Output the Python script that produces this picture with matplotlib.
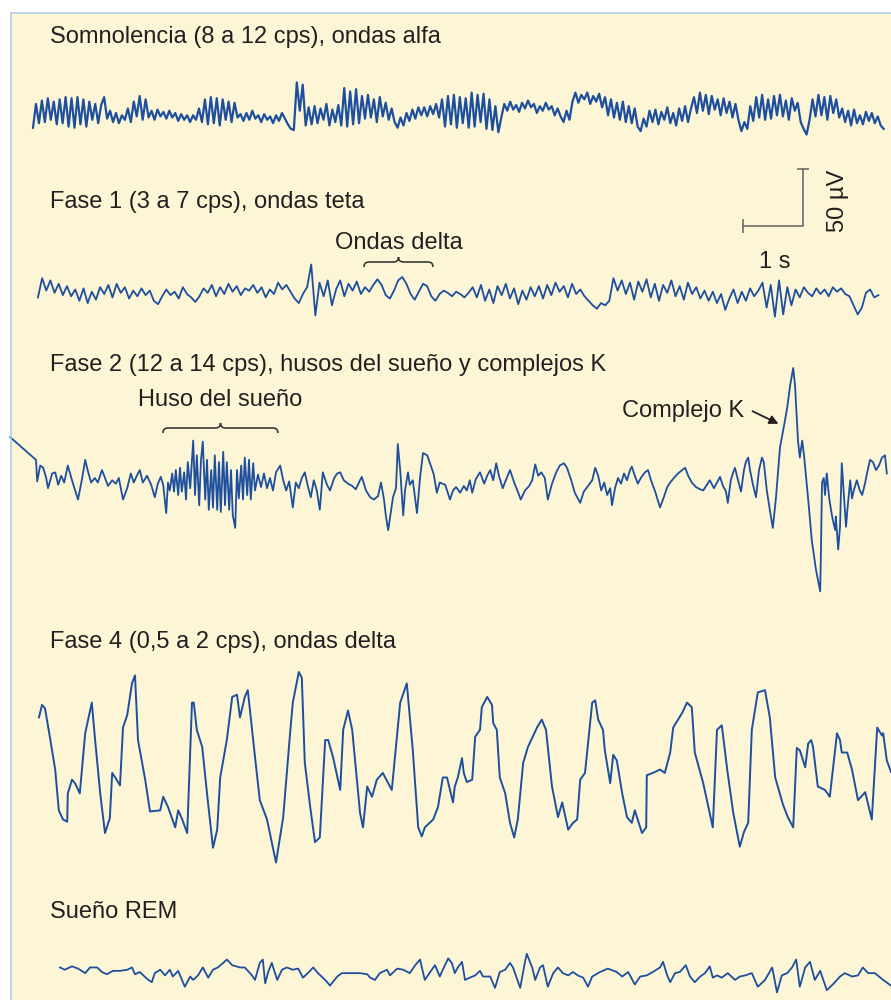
import numpy as np
import matplotlib.pyplot as plt
import matplotlib.transforms as mtransforms
from matplotlib.patches import Rectangle, PathPatch, FancyArrowPatch
from matplotlib.path import Path
from matplotlib.lines import Line2D

# ---- EEG traces (time in s, amplitude in µV) ----

# drowsiness, alpha waves: uniform samples
alpha_t0, alpha_dt = 0.55, 0.0494
alpha_uv = [
    -13, 8, -9, 11, -8, 13, -6, 10, -10,
    12, -9, 14, -12, 13, -13, 14, -10, 12, -12, 10, -6, 8, -9,
    7, 14, -5, 2, -8, 0, -9, -2,
    -6, 4, -8, 10, -3, 15, -6, 12,
    -4, 2, -6, 3, -3, 1, -5, 2, -4, 0, -7, -1, -6, -2, -8, -2, -6,
    4, -8, 12, -10, 14, -9, 13, -11, 12, -6, 10, -8, 9, -4,
    -1, -7, 0, -6, 2, -5, -2, -8, -1, -6, -3, -9, -2, -7, 0, -5, -10, -14,
    -15, 27, 2, 25, -11, 5,
    -10, 6, -9, 4, -6, 8, -11, 3, -8, 7,
    -11, 22, -12, 19, -10, 21, -9, 15,
    -5, 16, -4, 12, -8, 14, -3, 9, -6, 4, -8,
    -13, -4, -11, 0, -7, 3, -5, 5,
    -2, 5, -3, 6, -1, 8, -4,
    12, -12, 15, -10, 16, -13, 14, -9, 13, -13,
    18, -12, 16, -8, 17, -14, 12, -15, 6, -17,
    -4, 8, 2, 10, 3, 7, 1, 9, 4, 11, 5, 8, 0, 6, 2, 9, 3, 6, -2, 4,
    -3, -8, 2, -6,
    10, 18, 9, 16, 12, 18, 8, 15, 10, 17,
    5, 14, -2, 12, -4, 9, -6, 10, -8, 6, -9, 4, -12,
    -16, -5, -12,
    2, -8, 3, -10, 1, -6, 5, -9, 0, -11, 4, -7, 6, -8,
    4, 14, 0, 18, 2, 16, -1, 15, 3, 12, -2, 13, 0, 10, -4, 8, -6,
    -16, -8, -14,
    6, -7, 14, -4, 16, -6, 12, -5, 15, -2, 16, -3, 11, -6, 13, 2, 9, -8,
    -14, -19, -6,
    12, -3, 16, -2, 14, -6, 15, 0, 12, -4,
    4, -8, 2, -11, 3, -9, -2, -10, 1, -7, 0, -9, -3, -11, -14,
]

# stage 1, theta waves: uniform samples
theta_t0, theta_dt = 0.633, 0.069
theta_uv = [
    -3, 14, 3, 12, 1, 9,
    -1, 7, -2, 4, -6, 5, -8, 2, -5, 6,
    0, 8, -3, 9, 1, 6, -4, 3, -2, 5,
    -1, 3, -6, -9, -2, 4, -1, 2, -4, 6, 0, -3, -7, -2,
    5, 1, 8, -2, 6, 0, 9, 2, 7, -1, 5, 3,
    8, 1, 6, -3, 4, 0, 10, 4, 8, 2,
    -4, -8, 0, 6,
    26, -19,
    10, -2, 12, -10,
    4, 12, -2, 9, 3, 11, 0, 6,
    2, 8, 13, 8, -1, -4, 3, 12, 15, 9, 0, -5, 2, 9, 7, -2, -6, 0,
    3, 1, -2, 2, 0, -3, 1,
    6, -3, 8, -6, 4, -8, 7, -1, 9, -4, 5, -9, 3, -5, 6, -2, 7,
    -4, 8, -1, 10, 2, 7, -3, 9, 0, 4,
    -2, -6, -10, -13, -8, -10, -6,
    14, 3, 12, 0, 10, -5, 11, 2, 13, -3, 9, -6, 8, 1, 12, -2, 7, -5, 10, 0, 6, -4,
    3, -6, 2, -8, 0, -14, -4, 4, -8, 2, -6, 5, -2, 3,
    10, -12, 8, -20, 12, -18, 6,
    -10, 4, -3, 6, 1, -2, 5, 0, 4, -2, 6, 2, 5, 0,
    -2, -10, -18, -12, 1, 4, -3, -1,
]

# stage 2, spindles and K complex: (time, value) pairs
stage2_t = [
    0.17, 0.60, 0.62, 0.67, 0.72, 0.77, 0.80, 0.87, 0.92, 0.97, 1.02, 1.07, 1.13, 1.20, 1.30,
    1.37, 1.42, 1.47, 1.52, 1.58, 1.63, 1.70, 1.75, 1.80, 1.87, 1.93, 1.98, 2.05, 2.12, 2.18,
    2.23, 2.28, 2.33, 2.38, 2.45, 2.52, 2.58, 2.63, 2.68, 2.72, 2.77, 2.80, 2.83, 2.87, 2.90,
    2.93, 2.97, 3.00, 3.03, 3.07, 3.10, 3.13, 3.17, 3.22, 3.25, 3.28, 3.32, 3.35, 3.38, 3.42,
    3.45, 3.48, 3.52, 3.55, 3.58, 3.62, 3.65, 3.68, 3.72, 3.75, 3.78, 3.82, 3.85, 3.88, 3.92,
    3.95, 3.98, 4.02, 4.05, 4.08, 4.12, 4.15, 4.18, 4.22, 4.25, 4.30, 4.35, 4.40, 4.45, 4.50,
    4.55, 4.60, 4.67, 4.72, 4.77, 4.82, 4.88, 4.93, 4.98, 5.03, 5.08, 5.13, 5.18, 5.23, 5.28,
    5.33, 5.38, 5.45, 5.50, 5.57, 5.62, 5.67, 5.73, 5.80, 5.87, 5.93, 6.00, 6.03, 6.10, 6.17,
    6.23, 6.30, 6.35, 6.40, 6.43, 6.47, 6.52, 6.55, 6.60, 6.63, 6.67, 6.72, 6.75, 6.80, 6.83,
    6.88, 6.95, 7.00, 7.05, 7.12, 7.18, 7.23, 7.28, 7.33, 7.42, 7.47, 7.50, 7.55, 7.60, 7.67,
    7.73, 7.78, 7.83, 7.87, 7.93, 8.00, 8.07, 8.12, 8.17, 8.22, 8.27, 8.32, 8.38, 8.43, 8.50,
    8.57, 8.63, 8.68, 8.75, 8.82, 8.87, 8.92, 8.97, 9.02, 9.08, 9.13, 9.20, 9.27, 9.33, 9.40,
    9.45, 9.52, 9.58, 9.63, 9.67, 9.73, 9.80, 9.87, 9.92, 9.97, 10.02, 10.07, 10.12, 10.17, 10.20,
    10.25, 10.30, 10.35, 10.40, 10.45, 10.50, 10.53, 10.58, 10.63, 10.68, 10.75, 10.80, 10.85, 10.92, 11.00,
    11.07, 11.12, 11.17, 11.23, 11.30, 11.37, 11.42, 11.47, 11.53, 11.60, 11.67, 11.72, 11.78, 11.83, 11.90,
    11.95, 12.00, 12.05, 12.10, 12.13, 12.18, 12.22, 12.25, 12.30, 12.35, 12.40, 12.43, 12.47, 12.50, 12.55,
    12.60, 12.65, 12.70, 12.73, 12.78, 12.83, 12.88, 12.93, 12.97, 13.00, 13.07, 13.12, 13.17, 13.22, 13.25,
    13.30, 13.33, 13.37, 13.40, 13.47, 13.53, 13.60, 13.67, 13.68, 13.70, 13.73, 13.75, 13.78, 13.82, 13.85,
    13.88, 13.92, 13.93, 13.97, 14.00, 14.03, 14.07, 14.10, 14.13, 14.17, 14.20, 14.23, 14.28, 14.33, 14.37,
    14.42, 14.45, 14.50, 14.55, 14.60, 14.65, 14.70, 14.75, 14.78,
]
stage2_uv = [
    36, 16, -3, 11, 9, 0, -9, 4, 5, -6, 2, -4, 11, -2, -19,
    0, 16, 5, -4, 0, -4, 7, 0, -7, -2, -5, 0, -19, -9, 4,
    -4, 2, 7, -4, 2, -6, -17, -5, 1, -6, -31, -4, -11, 4, -12,
    7, -15, 9, -12, 5, -19, 14, -9, 33, -15, 20, -24, 16, 32, -19,
    16, -28, 7, -26, 20, -28, 14, -30, 23, -24, 14, -28, 7, -33, -44,
    7, -18, 11, -19, 18, -15, 16, -19, 13, -11, 3, -8, 4, -9, 0,
    -11, 5, 11, -2, -11, -3, -26, -4, -9, 0, 5, -7, -17, -2, -11,
    -28, 5, -6, -11, 0, 4, 5, -2, -5, -7, -10, -2, 1, -11, -17,
    -19, -16, -4, -19, -33, -46, -28, -17, -9, 30, 7, -33, -11, 5, -6,
    -2, -31, 0, 22, 20, 11, 3, -13, -4, -6, -14, -19, -11, -8, -13,
    -7, -11, -2, -13, -1, 5, -5, 2, 7, -2, 13, 1, -9, -2, 7,
    -4, -12, -19, -11, -7, -2, 12, 2, 5, 0, -19, -5, 5, 11, 13,
    9, -2, -13, -18, -22, -12, -7, -2, 9, 2, -11, -4, -15, -9, -24,
    -9, 0, -5, 4, -2, 7, 10, 2, -5, 0, 5, 7, -2, -12, -26,
    -16, -8, -4, 0, 4, 7, 9, 2, -4, -8, -10, -11, -6, -2, -9,
    -4, 1, -7, -12, -22, -2, 5, 9, -2, -12, 7, 14, 18, 7, -6,
    -17, 7, 18, 14, -11, -28, -44, -19, 7, 27, 47, 62, 82, 97, 82,
    33, 18, 33, 20, -19, -55, -81, -100, -72, -4, 0, -15, 4, -18, -28,
    -37, -46, -34, -63, -43, 13, -19, -43, -24, -2, -18, -11, -2, -11, -15,
    -4, 4, 16, 14, 7, 11, 18, 20, 4,
]

# stage 4, delta waves: (time, value) pairs
stage4_t = [
    0.65, 0.70, 0.75, 0.83, 0.92, 0.98, 1.05, 1.12, 1.13, 1.20, 1.25, 1.33, 1.42, 1.53, 1.58,
    1.67, 1.75, 1.83, 1.87, 1.92, 2.00, 2.05, 2.12, 2.20, 2.25, 2.30, 2.42, 2.50, 2.67, 2.72,
    2.80, 2.92, 2.97, 3.03, 3.12, 3.20, 3.23, 3.28, 3.37, 3.45, 3.55, 3.62, 3.67, 3.78, 3.87,
    3.95, 4.00, 4.08, 4.13, 4.25, 4.33, 4.45, 4.60, 4.72, 4.83, 4.88, 4.98, 5.03, 5.08, 5.17,
    5.25, 5.33, 5.42, 5.47, 5.55, 5.67, 5.72, 5.80, 5.87, 6.00, 6.05, 6.12, 6.20, 6.28, 6.38,
    6.53, 6.67, 6.78, 6.88, 6.97, 7.03, 7.08, 7.22, 7.30, 7.38, 7.45, 7.55, 7.58, 7.63, 7.70,
    7.73, 7.78, 7.87, 7.92, 8.00, 8.03, 8.12, 8.20, 8.22, 8.28, 8.33, 8.42, 8.50, 8.57, 8.63,
    8.72, 8.80, 8.95, 9.03, 9.10, 9.20, 9.30, 9.37, 9.47, 9.55, 9.62, 9.67, 9.75, 9.87, 9.92,
    9.97, 10.05, 10.08, 10.17, 10.22, 10.28, 10.37, 10.45, 10.53, 10.58, 10.70, 10.77, 10.78, 10.88, 11.00,
    11.08, 11.17, 11.22, 11.30, 11.37, 11.45, 11.53, 11.58, 11.72, 11.88, 11.95, 12.03, 12.12, 12.22, 12.33,
    12.40, 12.47, 12.53, 12.63, 12.75, 12.83, 12.92, 13.05, 13.13, 13.22, 13.28, 13.33, 13.42, 13.47, 13.52,
    13.55, 13.63, 13.75, 13.83, 13.95, 14.00, 14.03, 14.12, 14.20, 14.30, 14.42, 14.53, 14.62, 14.70, 14.72,
    14.78, 14.85,
]
stage4_uv = [
    42, 53, 50, 25, -4, -40, -48, -50, -25, -13, -16, -25, 28, 55, 25,
    -25, -60, -47, -7, -11, -18, 33, 44, 72, 79, 22, -13, -41, -40, -28,
    -37, -55, -40, -47, -60, 55, 55, 31, 16, -25, -73, -57, -11, 22, 60,
    62, 42, 60, 66, 7, -31, -48, -86, -46, 25, 55, 82, 77, 2, -37,
    -68, -64, 22, 22, 7, -22, 31, 48, 31, -42, -55, -19, -28, -13, -7,
    -22, 55, 72, 13, -55, -63, -55, -48, -37, -11, -11, -33, -19, -11, 6,
    -7, -15, -13, 25, 31, 51, 60, 53, 37, 31, -11, -25, -51, -64, -48,
    2, 16, 33, 40, 31, -19, -46, -33, -57, -51, -48, -13, -7, 55, 57,
    40, 31, 13, -16, 9, 4, -25, -46, -51, -40, -60, -55, -9, -7, -4,
    -7, 11, 33, 40, 46, 55, 51, 11, -16, -55, 31, 35, -4, -42, -72,
    -59, -51, 31, 64, 66, 42, -11, -35, -46, -55, 15, 13, -2, 19, 22,
    16, -19, -22, -28, 28, 22, 11, 11, -4, -31, -24, -48, 33, 26, 28,
    4, -6,
]

# REM sleep: (time, value) pairs
rem_t = [
    1.00, 1.08, 1.20, 1.30, 1.42, 1.50, 1.62, 1.70, 1.78, 1.88, 2.00, 2.12, 2.20, 2.25, 2.33,
    2.45, 2.53, 2.58, 2.67, 2.75, 2.83, 2.88, 2.97, 3.08, 3.17, 3.22, 3.30, 3.38, 3.47, 3.55,
    3.63, 3.72, 3.78, 3.87, 4.00, 4.08, 4.20, 4.25, 4.33, 4.38, 4.42, 4.47, 4.53, 4.62, 4.70,
    4.78, 4.88, 4.97, 5.05, 5.13, 5.22, 5.30, 5.42, 5.50, 5.62, 5.70, 5.80, 6.00, 6.12, 6.17,
    6.25, 6.33, 6.45, 6.50, 6.62, 6.72, 6.83, 6.92, 7.00, 7.08, 7.17, 7.25, 7.33, 7.38, 7.47,
    7.53, 7.58, 7.63, 7.70, 7.75, 7.83, 7.92, 8.00, 8.05, 8.17, 8.25, 8.33, 8.42, 8.50, 8.55,
    8.67, 8.75, 8.78, 8.87, 8.92, 9.00, 9.05, 9.13, 9.22, 9.30, 9.38, 9.47, 9.55, 9.63, 9.72,
    9.80, 9.87, 10.00, 10.13, 10.28, 10.37, 10.47, 10.58, 10.67, 10.78, 10.88, 11.00, 11.05, 11.12, 11.17,
    11.25, 11.33, 11.43, 11.50, 11.58, 11.67, 11.75, 11.83, 11.88, 11.95, 12.03, 12.13, 12.25, 12.33, 12.42,
    12.53, 12.63, 12.75, 12.87, 12.95, 13.03, 13.12, 13.20, 13.27, 13.33, 13.42, 13.50, 13.58, 13.67, 13.78,
    13.88, 14.00, 14.08, 14.20, 14.30, 14.38, 14.47, 14.58, 14.72, 14.85,
]
rem_uv = [
    4, 2, 5, 3, -1, 4, 4, 0, -2, 1, 1, 2, 4, -2, 0,
    -6, -9, -1, 2, -3, 2, -4, 1, -13, -4, -7, -3, 4, -5, 2,
    4, 8, 11, 6, 4, 4, -3, -7, 8, 11, -10, 0, 8, -7, 2,
    4, 2, 3, -5, -1, 4, -1, -7, -12, -4, -1, -1, -1, -2, -5,
    -7, -1, 2, -3, 3, 2, -1, 6, 11, -7, 0, 6, -4, 2, 12,
    8, -1, 4, 9, -7, -5, -3, 1, -4, -4, -14, 0, 2, 8, 4,
    -14, 9, 16, 4, -7, 4, 6, -13, -1, 4, -1, -3, 0, -3, -5,
    -13, -4, 0, 3, 0, -4, 0, -11, -4, -3, 0, 4, 9, -3, -9,
    -1, 0, 6, -4, -9, -4, -1, 5, -5, -3, -5, -1, -7, -4, -3,
    -1, -13, -7, 4, -18, -3, -1, 4, 11, -13, 4, 9, -7, 1, -16,
    -11, -4, -1, -4, -3, 4, -1, -1, -7, -12,
]

# scale bar
scale_s = 1
scale_uv = 50

# ---- styling ----
W, H = 891, 1000
PX_PER_S = 60
PX_PER_UV = 56.7 / 50
BG = '#fdf6d6'
TRACE = '#1d4f9e'
INK = '#231f20'
FONT = 'Liberation Sans'
FS = 17

fig = plt.figure(figsize=(8.91, 10), dpi=100, facecolor='white')
# pixel coordinates, origin top-left
pix = mtransforms.Affine2D().scale(1 / W, -1 / H).translate(0, 1) + fig.transFigure

fig.patches.append(Rectangle((11, 13), 880, 987, transform=pix,
                             facecolor=BG, edgecolor='none', zorder=-5))
fig.lines.append(Line2D([10.5, 891], [12.5, 12.5], transform=pix, color='#b3cce6', lw=1.2))
fig.lines.append(Line2D([10.5, 10.5], [12.5, 1000], transform=pix, color='#b3cce6', lw=1.2))


def strip(y_base, half=160):
    ax = fig.add_axes([0, 1 - (y_base + half) / H, 1, 2 * half / H])
    ax.set_xlim(0, W / PX_PER_S)
    ax.set_ylim(-half / PX_PER_UV, half / PX_PER_UV)
    ax.axis('off')
    return ax


def label(x, y, s, **kw):
    fig.text(x, y, s, transform=pix, fontsize=FS, family=FONT, color=INK,
             va='baseline', **kw)


def brace(x0, x1, y, h=5):
    xm = (x0 + x1) / 2
    verts = [(x0, y + h), (x0, y), (x0 + h, y), (xm - h, y), (xm, y), (xm, y - h),
             (xm, y), (xm + h, y), (x1 - h, y), (x1, y), (x1, y + h)]
    codes = [Path.MOVETO, Path.CURVE3, Path.CURVE3, Path.LINETO, Path.CURVE3, Path.CURVE3,
             Path.CURVE3, Path.CURVE3, Path.LINETO, Path.CURVE3, Path.CURVE3]
    fig.patches.append(PathPatch(Path(verts, codes), transform=pix, fill=False,
                                 edgecolor='#3a3a3a', lw=1.2))


# traces
ax1 = strip(113)
ax1.plot(alpha_t0 + alpha_dt * np.arange(len(alpha_uv)), alpha_uv, color=TRACE, lw=1.6)

ax2 = strip(294)
ax2.plot(theta_t0 + theta_dt * np.arange(len(theta_uv)), theta_uv, color=TRACE, lw=1.3)

ax3 = strip(478)
ax3.plot(stage2_t, stage2_uv, color=TRACE, lw=1.3)

ax4 = strip(765)
ax4.plot(stage4_t, stage4_uv, color=TRACE, lw=1.4, clip_on=False)

ax5 = strip(972)
ax5.plot(rem_t, rem_uv, color=TRACE, lw=1.3, clip_on=False)

# scale bar (1 s, 50 µV)
axs = strip(226)
sb_t = 743 / PX_PER_S
axs.plot([sb_t, sb_t + scale_s, sb_t + scale_s], [0, 0, scale_uv], color='#6b6b6b', lw=1.2)
axs.plot([sb_t], [0], marker='|', ms=10, mew=1.2, color='#6b6b6b')
axs.plot([sb_t + scale_s], [scale_uv], marker='_', ms=9, mew=1.2, color='#6b6b6b')
label(775, 268, '1 s', ha='center')
fig.text(838, 201, '50 µV', transform=pix, fontsize=FS, family=FONT, color=INK,
         rotation=90, ha='center', va='center')

# titles and annotations
label(50, 43, 'Somnolencia (8 a 12 cps), ondas alfa')
label(50, 208, 'Fase 1 (3 a 7 cps), ondas teta')
label(335, 249, 'Ondas delta')
brace(364, 433, 262)
label(50, 371, 'Fase 2 (12 a 14 cps), husos del sueño y complejos K')
label(138, 406, 'Huso del sueño')
brace(163, 278, 428)
label(622, 417, 'Complejo K')
fig.patches.append(FancyArrowPatch((750, 410), (781, 425), transform=pix,
                                   arrowstyle='-|>', mutation_scale=13,
                                   color=INK, lw=1.3))
label(50, 648, 'Fase 4 (0,5 a 2 cps), ondas delta')
label(50, 918, 'Sueño REM')

fig.savefig('out.png', dpi=100, facecolor=fig.get_facecolor())
